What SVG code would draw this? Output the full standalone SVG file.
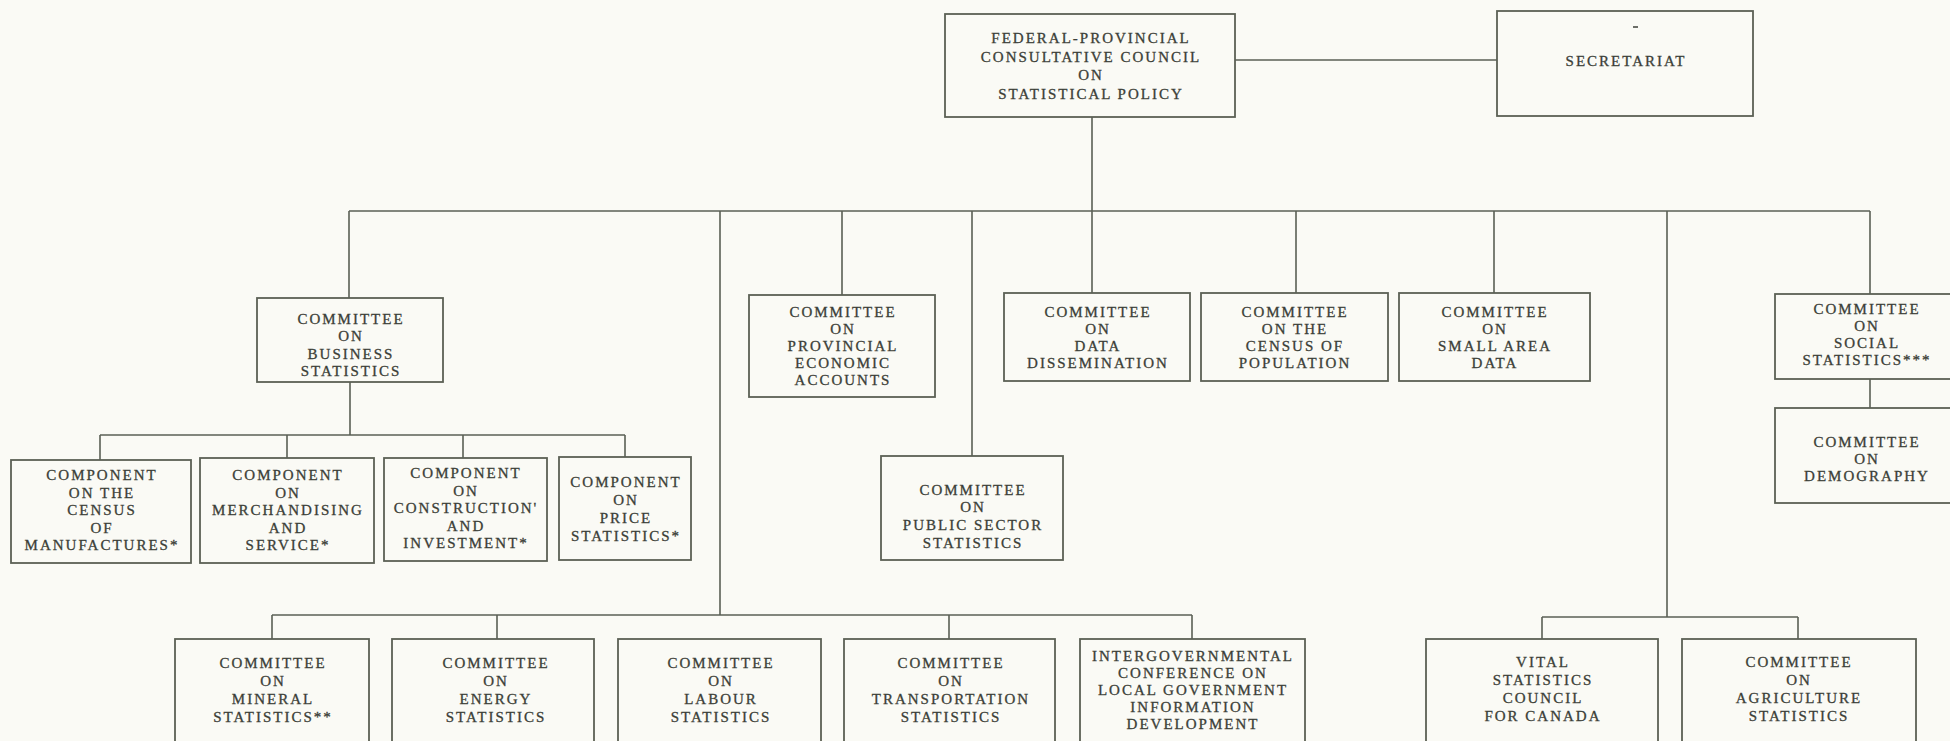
<svg xmlns="http://www.w3.org/2000/svg" width="1950" height="741" viewBox="0 0 1950 741">
<style>
.bg{fill:#fafaf5}
.box{fill:none;stroke:#5b6055;stroke-width:1.8}
.ln{fill:none;stroke:#5b6055;stroke-width:1.6}
.t{font-family:"Liberation Serif","Times New Roman",serif;font-size:15px;letter-spacing:2px;fill:#3c3f38;stroke:#3c3f38;stroke-width:0.3;text-anchor:middle}
.tb{font-size:15px;letter-spacing:2px}
</style>
<rect class="bg" x="0" y="0" width="1950" height="741"/>
<g id="connectors">
<path class="ln" d="M1235 60H1497M1092 117V211M349 211H1870"/>
<path class="ln" d="M349 211V298M720 211V615M842 211V295M972 211V456M1092 211V293M1296 211V293M1494 211V293M1667 211V617M1870 211V294M1870 379V408"/>
<path class="ln" d="M350 382V435M100 435H625M100 435V460M287 435V458M463 435V458M625 435V457"/>
<path class="ln" d="M272 615H1192M272 615V639M497 615V639M949 615V639M1192 615V639"/>
<path class="ln" d="M1542 617H1798M1542 617V639M1798 617V639"/>
</g>
<g id="council"><rect class="box" x="945" y="14" width="290" height="103"/>
<text class="t tb"><tspan x="1091" y="43">FEDERAL-PROVINCIAL</tspan><tspan x="1091" y="62">CONSULTATIVE COUNCIL</tspan><tspan x="1091" y="80">ON</tspan><tspan x="1091" y="99">STATISTICAL POLICY</tspan></text></g>
<g id="secretariat"><rect class="box" x="1497" y="11" width="256" height="105"/>
<path d="M1633 27h5" stroke="#3c3f38" stroke-width="1.5"/>
<text class="t tb"><tspan x="1626" y="66">SECRETARIAT</tspan></text></g>
<g id="business"><rect class="box" x="257" y="298" width="186" height="84"/>
<text class="t"><tspan x="351" y="324">COMMITTEE</tspan><tspan x="351" y="341">ON</tspan><tspan x="351" y="358.5">BUSINESS</tspan><tspan x="351" y="376">STATISTICS</tspan></text></g>
<g id="provincial-economic"><rect class="box" x="749" y="295" width="186" height="102"/>
<text class="t"><tspan x="843" y="317">COMMITTEE</tspan><tspan x="843" y="334">ON</tspan><tspan x="843" y="351">PROVINCIAL</tspan><tspan x="843" y="368">ECONOMIC</tspan><tspan x="843" y="385">ACCOUNTS</tspan></text></g>
<g id="data-dissemination"><rect class="box" x="1004" y="293" width="186" height="88"/>
<text class="t"><tspan x="1098" y="317">COMMITTEE</tspan><tspan x="1098" y="334">ON</tspan><tspan x="1098" y="351">DATA</tspan><tspan x="1098" y="368">DISSEMINATION</tspan></text></g>
<g id="census-population"><rect class="box" x="1201" y="293" width="187" height="88"/>
<text class="t"><tspan x="1295" y="317">COMMITTEE</tspan><tspan x="1295" y="334">ON THE</tspan><tspan x="1295" y="351">CENSUS OF</tspan><tspan x="1295" y="368">POPULATION</tspan></text></g>
<g id="small-area"><rect class="box" x="1399" y="293" width="191" height="88"/>
<text class="t"><tspan x="1495" y="317">COMMITTEE</tspan><tspan x="1495" y="334">ON</tspan><tspan x="1495" y="351">SMALL AREA</tspan><tspan x="1495" y="368">DATA</tspan></text></g>
<g id="social"><rect class="box" x="1775" y="294" width="190" height="85"/>
<text class="t"><tspan x="1867" y="314">COMMITTEE</tspan><tspan x="1867" y="331">ON</tspan><tspan x="1867" y="348">SOCIAL</tspan><tspan x="1867" y="365">STATISTICS***</tspan></text></g>
<g id="demography"><rect class="box" x="1775" y="408" width="190" height="95"/>
<text class="t"><tspan x="1867" y="447">COMMITTEE</tspan><tspan x="1867" y="464">ON</tspan><tspan x="1867" y="481">DEMOGRAPHY</tspan></text></g>
<g id="public-sector"><rect class="box" x="881" y="456" width="182" height="104"/>
<text class="t"><tspan x="973" y="495">COMMITTEE</tspan><tspan x="973" y="512">ON</tspan><tspan x="973" y="530">PUBLIC SECTOR</tspan><tspan x="973" y="548">STATISTICS</tspan></text></g>
<g id="comp-manufactures"><rect class="box" x="11" y="460" width="180" height="103"/>
<text class="t"><tspan x="102" y="480">COMPONENT</tspan><tspan x="102" y="497.5">ON THE</tspan><tspan x="102" y="515">CENSUS</tspan><tspan x="102" y="532.5">OF</tspan><tspan x="102" y="550">MANUFACTURES*</tspan></text></g>
<g id="comp-merchandising"><rect class="box" x="200" y="458" width="174" height="105"/>
<text class="t"><tspan x="288" y="480">COMPONENT</tspan><tspan x="288" y="497.5">ON</tspan><tspan x="288" y="515">MERCHANDISING</tspan><tspan x="288" y="532.5">AND</tspan><tspan x="288" y="550">SERVICE*</tspan></text></g>
<g id="comp-construction"><rect class="box" x="384" y="458" width="163" height="103"/>
<text class="t"><tspan x="466" y="478">COMPONENT</tspan><tspan x="466" y="495.5">ON</tspan><tspan x="466" y="513">CONSTRUCTION'</tspan><tspan x="466" y="530.5">AND</tspan><tspan x="466" y="548">INVESTMENT*</tspan></text></g>
<g id="comp-price"><rect class="box" x="559" y="457" width="132" height="103"/>
<text class="t"><tspan x="626" y="487">COMPONENT</tspan><tspan x="626" y="505">ON</tspan><tspan x="626" y="523">PRICE</tspan><tspan x="626" y="541">STATISTICS*</tspan></text></g>
<g id="mineral"><rect class="box" x="175" y="639" width="194" height="130"/>
<text class="t"><tspan x="273" y="668">COMMITTEE</tspan><tspan x="273" y="686">ON</tspan><tspan x="273" y="704">MINERAL</tspan><tspan x="273" y="722">STATISTICS**</tspan></text></g>
<g id="energy"><rect class="box" x="392" y="639" width="202" height="130"/>
<text class="t"><tspan x="496" y="668">COMMITTEE</tspan><tspan x="496" y="686">ON</tspan><tspan x="496" y="704">ENERGY</tspan><tspan x="496" y="722">STATISTICS</tspan></text></g>
<g id="labour"><rect class="box" x="618" y="639" width="203" height="130"/>
<text class="t"><tspan x="721" y="668">COMMITTEE</tspan><tspan x="721" y="686">ON</tspan><tspan x="721" y="704">LABOUR</tspan><tspan x="721" y="722">STATISTICS</tspan></text></g>
<g id="transportation"><rect class="box" x="844" y="639" width="211" height="130"/>
<text class="t"><tspan x="951" y="668">COMMITTEE</tspan><tspan x="951" y="686">ON</tspan><tspan x="951" y="704">TRANSPORTATION</tspan><tspan x="951" y="722">STATISTICS</tspan></text></g>
<g id="intergovernmental"><rect class="box" x="1080" y="639" width="225" height="130"/>
<text class="t"><tspan x="1193" y="661">INTERGOVERNMENTAL</tspan><tspan x="1193" y="678">CONFERENCE ON</tspan><tspan x="1193" y="695">LOCAL GOVERNMENT</tspan><tspan x="1193" y="712">INFORMATION</tspan><tspan x="1193" y="729">DEVELOPMENT</tspan></text></g>
<g id="vital"><rect class="box" x="1426" y="639" width="232" height="130"/>
<text class="t"><tspan x="1543" y="667">VITAL</tspan><tspan x="1543" y="685">STATISTICS</tspan><tspan x="1543" y="703">COUNCIL</tspan><tspan x="1543" y="721">FOR CANADA</tspan></text></g>
<g id="agriculture"><rect class="box" x="1682" y="639" width="234" height="130"/>
<text class="t"><tspan x="1799" y="667">COMMITTEE</tspan><tspan x="1799" y="685">ON</tspan><tspan x="1799" y="703">AGRICULTURE</tspan><tspan x="1799" y="721">STATISTICS</tspan></text></g>
</svg>
